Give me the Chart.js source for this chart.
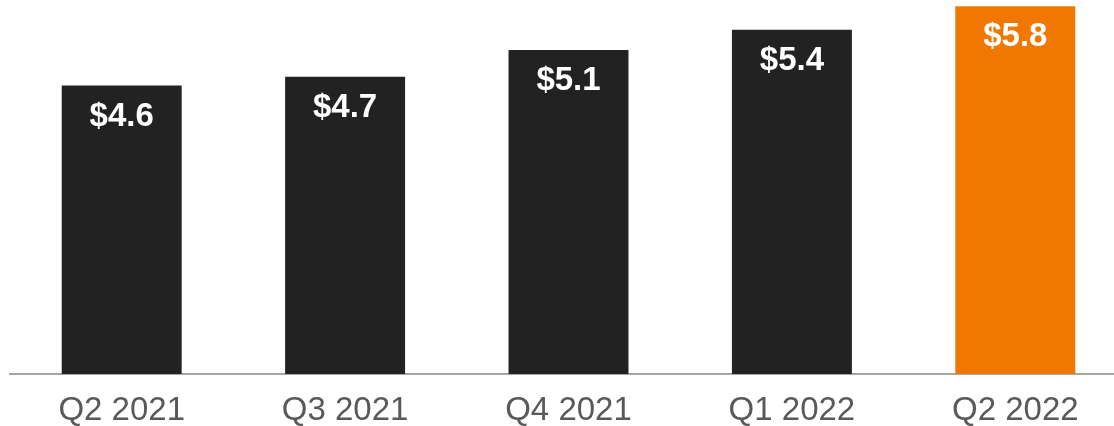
<!DOCTYPE html>
<html>
<head>
<meta charset="utf-8">
<script src="https://cdn.jsdelivr.net/npm/chart.js@4/dist/chart.umd.min.js"></script>
<style>
  html, body { margin: 0; padding: 0; background: #ffffff; overflow: hidden; width: 1114px; height: 426px; }
  #wrap { width: 1130px; height: 426px; position: relative; }
</style>
</head>
<body>
<div id="wrap"><canvas id="c"></canvas></div>
<script>
const categories = ["Q2 2021", "Q3 2021", "Q4 2021", "Q1 2022", "Q2 2022"];
const values = [4.55, 4.69, 5.11, 5.43, 5.80];
const valueLabels = ["$4.6", "$4.7", "$5.1", "$5.4", "$5.8"];
const barColors = ["#222222", "#222222", "#222222", "#222222", "#F07800"];

const labelPlugin = {
  id: "valueLabels",
  afterDatasetsDraw(chart) {
    const ctx = chart.ctx;
    const meta = chart.getDatasetMeta(0);
    ctx.save();
    ctx.fillStyle = "#ffffff";
    ctx.font = "bold 33px 'Liberation Sans', Arial, sans-serif";
    ctx.textAlign = "center";
    ctx.textBaseline = "middle";
    meta.data.forEach((bar, i) => {
      ctx.fillText(valueLabels[i], bar.x, bar.y + 31);
    });
    ctx.restore();
  }
};

new Chart(document.getElementById("c"), {
  type: "bar",
  data: {
    labels: categories,
    datasets: [{
      data: values,
      backgroundColor: barColors,
      borderWidth: 0,
      categoryPercentage: 1.0,
      barPercentage: 0.537
    }]
  },
  options: {
    responsive: true,
    maintainAspectRatio: false,
    animation: false,
    layout: { padding: { left: 10, right: 3, top: 0, bottom: 0 } },
    plugins: { legend: { display: false }, tooltip: { enabled: false } },
    scales: {
      x: {
        grid: { display: false, drawTicks: false },
        border: { display: true, color: "#a6a6a6", width: 2 },
        afterFit(scale) { scale.height = 52; },
        ticks: {
          color: "#595959",
          padding: 17,
          font: { family: "'Liberation Sans', Arial, sans-serif", size: 33 }
        }
      },
      y: {
        display: false,
        min: 0,
        max: 5.9
      }
    }
  },
  plugins: [labelPlugin]
});
</script>
</body>
</html>
